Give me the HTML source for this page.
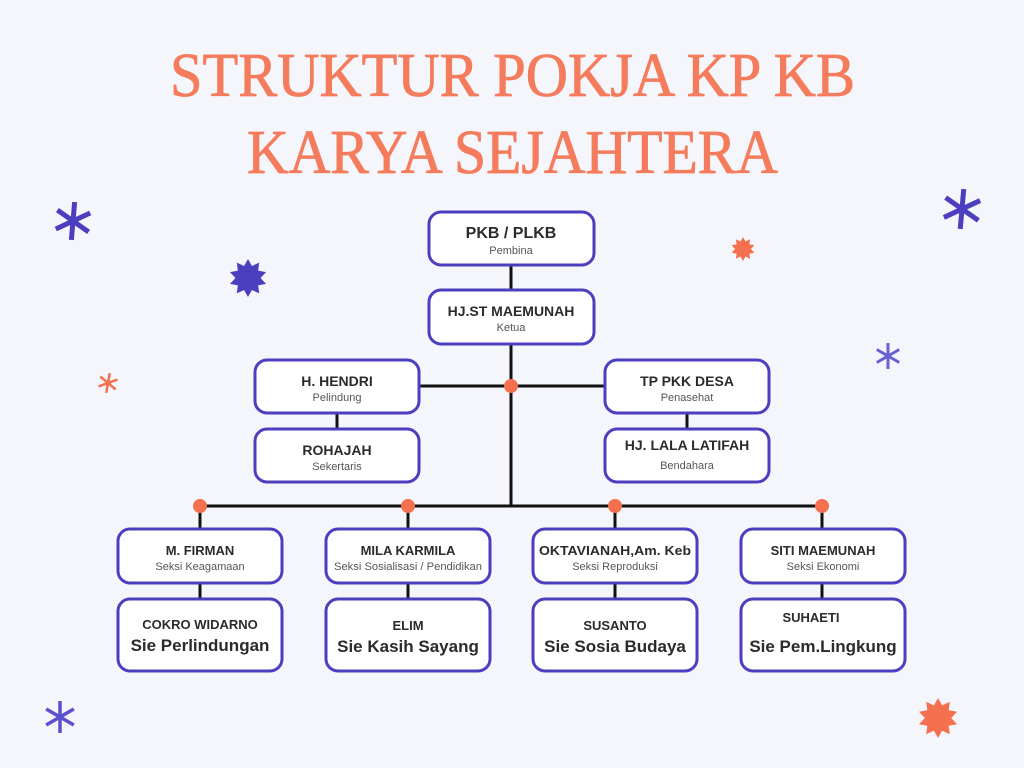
<!DOCTYPE html>
<html><head><meta charset="utf-8"><style>
html,body{margin:0;padding:0;background:#f5f6fb;}
svg{display:block}
.n{font-family:"Liberation Sans",sans-serif;font-weight:bold;fill:#2b2b2b;text-anchor:middle}
.s{font-family:"Liberation Sans",sans-serif;fill:#555;text-anchor:middle;font-size:11px}
.b{fill:#fff;stroke:#4b3fbf;stroke-width:3}
</style></head><body>
<svg width="1024" height="768" viewBox="0 0 1024 768" xmlns="http://www.w3.org/2000/svg">
<defs>
<polygon id="burst" points="0,-20 4.1,-12.6 11.8,-16.2 10.7,-7.8 19,-6.2 13.2,0 19,6.2 10.7,7.8 11.8,16.2 4.1,12.6 0,20 -4.1,12.6 -11.8,16.2 -10.7,7.8 -19,6.2 -13.2,0 -19,-6.2 -10.7,-7.8 -11.8,-16.2 -4.1,-12.6"/>
</defs>
<rect width="1024" height="768" fill="#f5f6fb"/>
<g font-family="Liberation Serif,serif" fill="#f47c5c" stroke="#f47c5c" stroke-width="0.8" text-anchor="start" font-size="62">
<text x="170" y="96" textLength="685" lengthAdjust="spacingAndGlyphs">STRUKTUR POKJA  KP KB</text>
<text x="247" y="173" textLength="531" lengthAdjust="spacingAndGlyphs">KARYA SEJAHTERA</text>
</g>
<g stroke="#111" stroke-width="3" fill="none">
<line x1="511" y1="265" x2="511" y2="290"/>
<line x1="511" y1="344" x2="511" y2="506"/>
<line x1="420" y1="386" x2="604" y2="386"/>
<line x1="337" y1="413" x2="337" y2="428"/>
<line x1="687" y1="413" x2="687" y2="428"/>
<line x1="200" y1="506" x2="822" y2="506"/>
<line x1="200" y1="506" x2="200" y2="528"/>
<line x1="408" y1="506" x2="408" y2="528"/>
<line x1="615" y1="506" x2="615" y2="528"/>
<line x1="822" y1="506" x2="822" y2="528"/>
<line x1="200" y1="583" x2="200" y2="598"/>
<line x1="408" y1="583" x2="408" y2="598"/>
<line x1="615" y1="583" x2="615" y2="598"/>
<line x1="822" y1="583" x2="822" y2="598"/>
</g>
<g fill="#f4704f">
<circle cx="511" cy="386" r="7"/>
<circle cx="200" cy="506" r="7"/><circle cx="408" cy="506" r="7"/>
<circle cx="615" cy="506" r="7"/><circle cx="822" cy="506" r="7"/>
</g>
<rect class="b" x="429" y="212" width="165" height="53" rx="12"/>
<text class="n" x="511" y="238" font-size="16">PKB / PLKB</text><text class="s" x="511" y="254">Pembina</text>
<rect class="b" x="429" y="290" width="165" height="54" rx="12"/>
<text class="n" x="511" y="316" font-size="14">HJ.ST MAEMUNAH</text><text class="s" x="511" y="331">Ketua</text>
<rect class="b" x="255" y="360" width="164" height="53" rx="12"/>
<text class="n" x="337" y="386" font-size="14">H. HENDRI</text><text class="s" x="337" y="401">Pelindung</text>
<rect class="b" x="255" y="429" width="164" height="53" rx="12"/>
<text class="n" x="337" y="455" font-size="14">ROHAJAH</text><text class="s" x="337" y="470">Sekertaris</text>
<rect class="b" x="605" y="360" width="164" height="53" rx="12"/>
<text class="n" x="687" y="386" font-size="14">TP PKK DESA</text><text class="s" x="687" y="401">Penasehat</text>
<rect class="b" x="605" y="429" width="164" height="53" rx="12"/>
<text class="n" x="687" y="450" font-size="14">HJ. LALA LATIFAH</text><text class="s" x="687" y="469">Bendahara</text>

<rect class="b" x="118" y="529" width="164" height="54" rx="12"/>
<text class="n" x="200" y="555" font-size="13">M. FIRMAN</text><text class="s" x="200" y="570">Seksi Keagamaan</text>
<rect class="b" x="326" y="529" width="164" height="54" rx="12"/>
<text class="n" x="408" y="555" font-size="13">MILA KARMILA</text><text class="s" x="408" y="570" textLength="148" lengthAdjust="spacingAndGlyphs">Seksi Sosialisasi / Pendidikan</text>
<rect class="b" x="533" y="529" width="164" height="54" rx="12"/>
<text class="n" x="615" y="555" font-size="13" textLength="152" lengthAdjust="spacingAndGlyphs">OKTAVIANAH,Am. Keb</text><text class="s" x="615" y="570">Seksi Reproduksi</text>
<rect class="b" x="741" y="529" width="164" height="54" rx="12"/>
<text class="n" x="823" y="555" font-size="13">SITI MAEMUNAH</text><text class="s" x="823" y="570">Seksi Ekonomi</text>

<rect class="b" x="118" y="599" width="164" height="72" rx="12"/>
<text class="n" x="200" y="629" font-size="13">COKRO WIDARNO</text><text class="n" x="200" y="651" font-size="17">Sie Perlindungan</text>
<rect class="b" x="326" y="599" width="164" height="72" rx="12"/>
<text class="n" x="408" y="630" font-size="13">ELIM</text><text class="n" x="408" y="652" font-size="17">Sie Kasih Sayang</text>
<rect class="b" x="533" y="599" width="164" height="72" rx="12"/>
<text class="n" x="615" y="630" font-size="13">SUSANTO</text><text class="n" x="615" y="652" font-size="17">Sie Sosia Budaya</text>
<rect class="b" x="741" y="599" width="164" height="72" rx="12"/>
<text class="n" x="811" y="622" font-size="13">SUHAETI</text><text class="n" x="823" y="652" font-size="17">Sie Pem.Lingkung</text>

<g stroke-linecap="butt">
<g stroke="#4b3fbf" stroke-width="5" transform="translate(73,221)">
<line x1="0" y1="-19" x2="0" y2="19" transform="rotate(5)"/><line x1="0" y1="-19" x2="0" y2="19" transform="rotate(65)"/><line x1="0" y1="-19" x2="0" y2="19" transform="rotate(125)"/></g>
<g stroke="#4b3fbf" stroke-width="5" transform="translate(962,209)">
<line x1="0" y1="-20" x2="0" y2="20" transform="rotate(5)"/><line x1="0" y1="-20" x2="0" y2="20" transform="rotate(65)"/><line x1="0" y1="-20" x2="0" y2="20" transform="rotate(125)"/></g>
<g stroke="#6a5fd0" stroke-width="3" transform="translate(888,356)">
<line x1="0" y1="-13" x2="0" y2="13"/><line x1="0" y1="-13" x2="0" y2="13" transform="rotate(60)"/><line x1="0" y1="-13" x2="0" y2="13" transform="rotate(120)"/></g>
<g stroke="#5a4fcc" stroke-width="3.5" transform="translate(60,717)">
<line x1="0" y1="-16" x2="0" y2="16"/><line x1="0" y1="-16" x2="0" y2="16" transform="rotate(60)"/><line x1="0" y1="-16" x2="0" y2="16" transform="rotate(120)"/></g>
<g stroke="#f4704f" stroke-width="2.5" transform="translate(108,383)">
<line x1="0" y1="-10" x2="0" y2="10" transform="rotate(10)"/><line x1="0" y1="-10" x2="0" y2="10" transform="rotate(70)"/><line x1="0" y1="-10" x2="0" y2="10" transform="rotate(130)"/></g>
</g>
<use href="#burst" fill="#4b3fbf" transform="translate(248,278) scale(0.95)"/>
<use href="#burst" fill="#f4704f" transform="translate(743,249) scale(0.6)"/>
<use href="#burst" fill="#f4704f" transform="translate(938,718) scale(1.0)"/>
</svg>
</body></html>
